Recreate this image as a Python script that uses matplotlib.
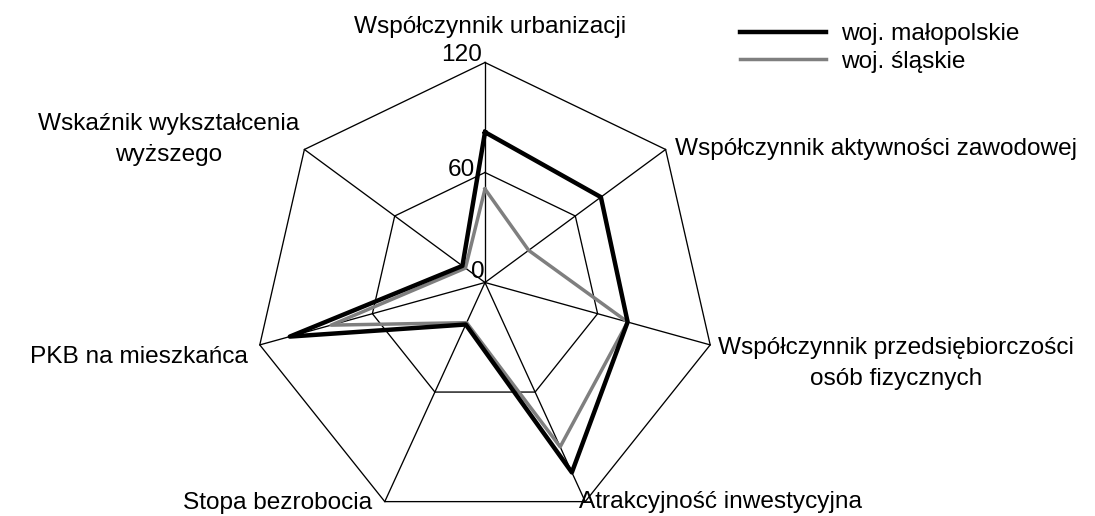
import numpy as np
import matplotlib.pyplot as plt

plt.rcParams['font.family'] = ['Liberation Sans', 'DejaVu Sans']

# axis names, clockwise from the top
categories = [
    "Współczynnik urbanizacji",
    "Współczynnik aktywności zawodowej",
    "Współczynnik przedsiębiorczości\nosób fizycznych",
    "Atrakcyjność inwestycyjna",
    "Stopa bezrobocia",
    "PKB na mieszkańca",
    "Wskaźnik wykształcenia\nwyższego",
]
malopolskie = [82, 77, 76, 104, 23, 104, 15]
slaskie = [51, 29, 76, 90, 22, 82, 13]
ring_values = [0, 60, 120]
series_names = ["woj. małopolskie", "woj. śląskie"]

vmax = ring_values[-1]
n = len(categories)
angles = np.linspace(0, 2 * np.pi, n, endpoint=False)
# spoke directions; the outer heptagon in the original sits a bit below the hub
ux = np.sin(angles)
uy = np.cos(angles) - 0.0476


def to_xy(vals):
    r = np.asarray(vals, dtype=float) / vmax
    x, y = r * ux, r * uy
    return np.append(x, x[0]), np.append(y, y[0])


fig = plt.figure(figsize=(10.95, 5.16), dpi=100)
ax = fig.add_axes([0, 0, 1, 1])
ax.set_xlim(-485 / 231, 610 / 231)
ax.set_ylim(-233.5 / 231, 282.5 / 231)
ax.axis('off')

# heptagon grid
for r in ring_values[1:]:
    gx, gy = to_xy([r] * n)
    ax.plot(gx, gy, color='black', lw=0.95, zorder=1)
for x, y in zip(ux, uy):
    ax.plot([0, x], [0, y], color='black', lw=0.95, zorder=1)

# ring value labels along the top axis
tick_offsets = [(0, 5), (-10, -4), (-3, 1)]
for val, off in zip(ring_values, tick_offsets):
    ax.annotate(str(val), xy=(0, uy[0] * val / vmax), xytext=off,
                textcoords='offset pixels', ha='right', va='baseline', fontsize=17.6)

mx, my = to_xy(malopolskie)
sx, sy = to_xy(slaskie)
l1, = ax.plot(mx, my, color='black', lw=3.2, zorder=3)
l2, = ax.plot(sx, sy, color='#7f7f7f', lw=2.5, zorder=2)

# axis labels: offset in pixels from the outer vertex (to last baseline), alignment
label_style = [
    ((5, 29), 'center'),
    ((9, -6), 'left'),
    ((8, -40), 'left'),
    ((-6, -6), 'left'),
    ((-13, -7), 'right'),
    ((-12, -18), 'right'),
    ((-5, -12), 'right'),
]
for x, y, name, (off, ha) in zip(ux, uy, categories, label_style):
    ax.annotate(name, xy=(x, y), xytext=off, textcoords='offset pixels',
                ha=ha, va='baseline', fontsize=17.6, multialignment='center',
                linespacing=1.55, annotation_clip=False)

fig.legend([l1, l2], series_names, loc='upper left', bbox_to_anchor=(0.6557, 0.998),
           frameon=False, fontsize=17.6, handlelength=3.5, handletextpad=0.62,
           labelspacing=0.22)

fig.savefig('out.png', dpi=100)
